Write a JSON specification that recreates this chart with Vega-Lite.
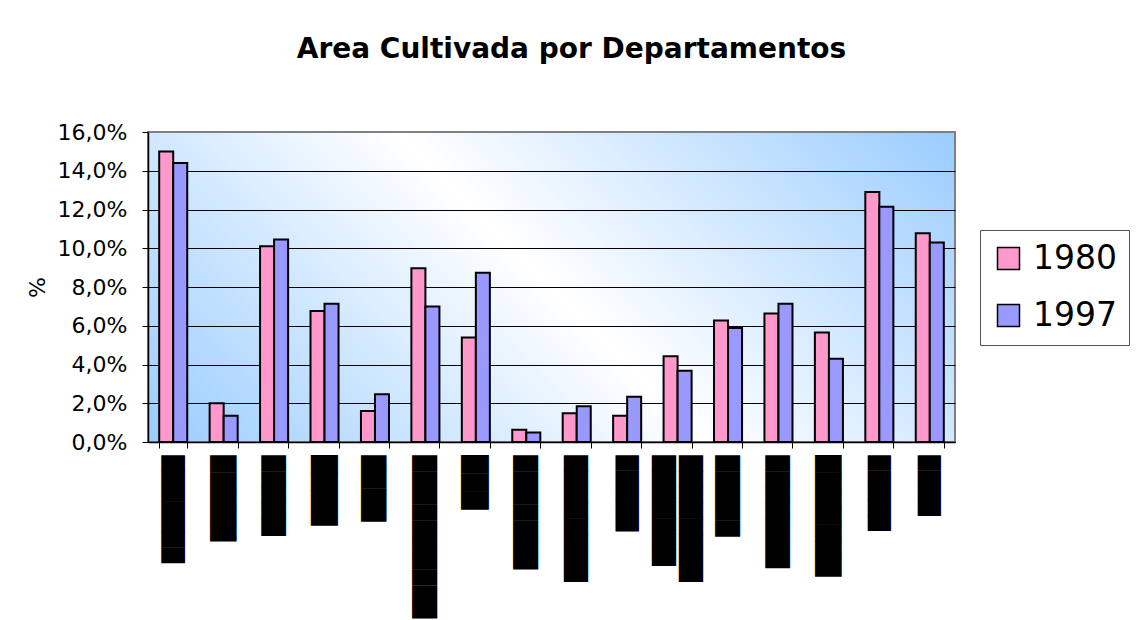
{
  "$schema": "https://vega.github.io/schema/vega-lite/v6.json",
  "width": 807,
  "height": 310,
  "autosize": {"type": "none"},
  "padding": {"left": 148, "top": 132, "right": 181, "bottom": 178},
  "background": "white",
  "title": {
    "text": "Area Cultivada por Departamentos",
    "font": "DejaVu Sans",
    "fontSize": 28,
    "fontWeight": "bold",
    "color": "black",
    "anchor": "middle",
    "frame": "group",
    "dx": 20,
    "offset": 57
  },
  "data": {
    "values": [
      {"departamento": "Departamento 1", "anio": "1980", "porcentaje": 15.0},
      {"departamento": "Departamento 1", "anio": "1997", "porcentaje": 14.4},
      {"departamento": "Departamento 2", "anio": "1980", "porcentaje": 2.0},
      {"departamento": "Departamento 2", "anio": "1997", "porcentaje": 1.35},
      {"departamento": "Departamento 3", "anio": "1980", "porcentaje": 10.1},
      {"departamento": "Departamento 3", "anio": "1997", "porcentaje": 10.45},
      {"departamento": "Departamento 4", "anio": "1980", "porcentaje": 6.76},
      {"departamento": "Departamento 4", "anio": "1997", "porcentaje": 7.13},
      {"departamento": "Departamento 5", "anio": "1980", "porcentaje": 1.6},
      {"departamento": "Departamento 5", "anio": "1997", "porcentaje": 2.46},
      {"departamento": "Departamento 6", "anio": "1980", "porcentaje": 8.97},
      {"departamento": "Departamento 6", "anio": "1997", "porcentaje": 6.99},
      {"departamento": "Departamento 7", "anio": "1980", "porcentaje": 5.39},
      {"departamento": "Departamento 7", "anio": "1997", "porcentaje": 8.73},
      {"departamento": "Departamento 8", "anio": "1980", "porcentaje": 0.63},
      {"departamento": "Departamento 8", "anio": "1997", "porcentaje": 0.49},
      {"departamento": "Departamento 9", "anio": "1980", "porcentaje": 1.49},
      {"departamento": "Departamento 9", "anio": "1997", "porcentaje": 1.85},
      {"departamento": "Departamento 10", "anio": "1980", "porcentaje": 1.35},
      {"departamento": "Departamento 10", "anio": "1997", "porcentaje": 2.34},
      {"departamento": "Departamento 11", "anio": "1980", "porcentaje": 4.42},
      {"departamento": "Departamento 11", "anio": "1997", "porcentaje": 3.68},
      {"departamento": "Departamento 12", "anio": "1980", "porcentaje": 6.27},
      {"departamento": "Departamento 12", "anio": "1997", "porcentaje": 5.89},
      {"departamento": "Departamento 13", "anio": "1980", "porcentaje": 6.63},
      {"departamento": "Departamento 13", "anio": "1997", "porcentaje": 7.13},
      {"departamento": "Departamento 14", "anio": "1980", "porcentaje": 5.65},
      {"departamento": "Departamento 14", "anio": "1997", "porcentaje": 4.3},
      {"departamento": "Departamento 15", "anio": "1980", "porcentaje": 12.9},
      {"departamento": "Departamento 15", "anio": "1997", "porcentaje": 12.14},
      {"departamento": "Departamento 16", "anio": "1980", "porcentaje": 10.78},
      {"departamento": "Departamento 16", "anio": "1997", "porcentaje": 10.3}
    ]
  },
  "mark": {"type": "bar", "stroke": "black", "strokeWidth": 2},
  "encoding": {
    "x": {
      "field": "departamento",
      "type": "nominal",
      "sort": null,
      "scale": {"paddingInner": 0.444, "paddingOuter": 0.222},
      "axis": {
        "title": null,
        "labelAngle": 270,
        "labelAlign": "right",
        "labelBaseline": "middle",
        "labelFont": "DejaVu Sans",
        "labelFontSize": {"expr": "{'Departamento 1': 20, 'Departamento 2': 22.4, 'Departamento 3': 20.9, 'Departamento 4': 22.8, 'Departamento 5': 21.5, 'Departamento 6': 21.2, 'Departamento 7': 23.5, 'Departamento 8': 21.2, 'Departamento 9': 20.5, 'Departamento 10': 19.8, 'Departamento 11': 20.5, 'Departamento 12': 21.1, 'Departamento 13': 20.9, 'Departamento 14': 22.5, 'Departamento 15': 19.6, 'Departamento 16': 19.6}[datum.value] || 21"},
        "labelColor": "black",
        "labelPadding": 7,
        "labelLimit": 1000,
        "labelOverlap": false,
        "labelBound": false,
        "labelLineHeight": 27,
        "labelOffset": {"condition": {"test": "datum.value == 'Departamento 11'", "value": -13.5}, "value": 0},
        "labelExpr": "datum.value == 'Departamento 11' ? [pad('', 7, '█'), pad('', 8, '█')] : pad('', {'Departamento 1': 7, 'Departamento 2': 5, 'Departamento 3': 5, 'Departamento 4': 4, 'Departamento 5': 4, 'Departamento 6': 10, 'Departamento 7': 3, 'Departamento 8': 7, 'Departamento 9': 8, 'Departamento 10': 5, 'Departamento 12': 5, 'Departamento 13': 7, 'Departamento 14': 7, 'Departamento 15': 5, 'Departamento 16': 4}[datum.value], '█')",
        "tickSize": 6,
        "tickBand": "extent",
        "tickColor": "black",
        "domainColor": "black",
        "domainWidth": 1.5
      }
    },
    "xOffset": {"field": "anio", "type": "nominal"},
    "y": {
      "field": "porcentaje",
      "type": "quantitative",
      "scale": {"domain": [0, 16], "nice": false},
      "axis": {
        "title": "%",
        "titleFont": "DejaVu Sans",
        "titleFontSize": 22,
        "titleFontWeight": "normal",
        "titleColor": "black",
        "titlePadding": 8,
        "values": [0, 2, 4, 6, 8, 10, 12, 14, 16],
        "labelExpr": "replace(format(datum.value, '.1f'), '.', ',') + '%'",
        "labelFont": "DejaVu Sans",
        "labelFontSize": 22,
        "labelColor": "black",
        "labelPadding": 15,
        "tickSize": 6,
        "tickColor": "black",
        "domainColor": "black",
        "domainWidth": 1.5,
        "grid": true,
        "gridColor": {"condition": {"test": "datum.value >= 16", "value": "#808080"}, "value": "black"},
        "gridWidth": 1
      }
    },
    "color": {
      "field": "anio",
      "type": "nominal",
      "scale": {"range": ["#FF99CC", "#9999FF"]},
      "legend": {
        "title": null,
        "orient": "none",
        "legendX": 832,
        "legendY": 98,
        "direction": "vertical",
        "symbolType": "square",
        "symbolSize": 484,
        "symbolStrokeColor": "black",
        "symbolStrokeWidth": 1.5,
        "labelFont": "DejaVu Sans",
        "labelFontSize": 33,
        "labelColor": "black",
        "labelOffset": 8,
        "rowPadding": 23,
        "padding": 12,
        "strokeColor": "#555555",
        "fillColor": "white"
      }
    }
  },
  "config": {
    "view": {
      "fill": {
        "gradient": "linear",
        "x1": -0.103,
        "y1": 0.732,
        "x2": 1.103,
        "y2": 0.268,
        "stops": [
          {"offset": 0, "color": "#99CCFF"},
          {"offset": 0.5, "color": "#FFFFFF"},
          {"offset": 1, "color": "#99CCFF"}
        ]
      },
      "stroke": "#808080",
      "strokeWidth": 2
    }
  }
}
